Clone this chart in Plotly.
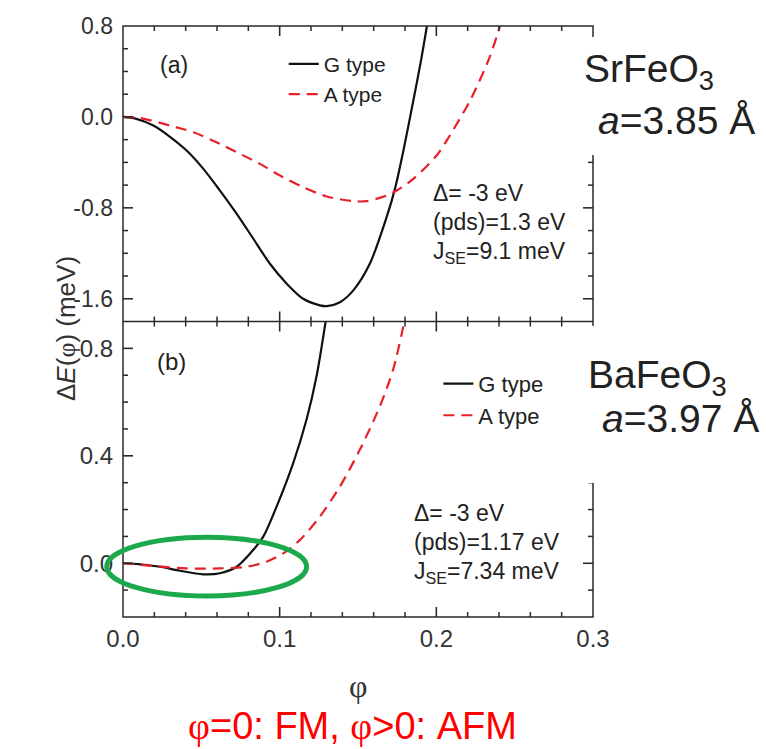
import plotly.graph_objects as go

# ---------------- data ----------------
# (a) SrFeO3
phi_a_G = [0.000, 0.008, 0.0194, 0.030, 0.0406, 0.0513, 0.0619, 0.0726, 0.0832, 0.0938,
           0.1045, 0.115, 0.1257, 0.130, 0.1385, 0.147, 0.1576, 0.1683, 0.1736, 0.179,
           0.1853, 0.190, 0.194]
dE_a_G = [0.000, -0.015, -0.076, -0.175, -0.296, -0.457, -0.648, -0.853, -1.072, -1.292,
          -1.467, -1.600, -1.658, -1.665, -1.630, -1.526, -1.290, -0.880, -0.633, -0.296,
          0.143, 0.480, 0.800]
phi_a_A = [0.000, 0.0108, 0.030, 0.045, 0.0619, 0.0726, 0.0874, 0.1002, 0.115, 0.130,
           0.147, 0.1555, 0.1683, 0.1747, 0.1853, 0.2002, 0.2066, 0.2215, 0.234, 0.2406]
dE_a_A = [0.000, -0.009, -0.076, -0.135, -0.237, -0.311, -0.413, -0.516, -0.618, -0.700,
          -0.741, -0.741, -0.692, -0.648, -0.545, -0.340, -0.208, 0.143, 0.524, 0.800]
# (b) BaFeO3
phi_b_G = [0.000, 0.0108, 0.0236, 0.0364, 0.0513, 0.0619, 0.0726, 0.0832, 0.0896, 0.0981,
           0.1087, 0.1172, 0.1236, 0.1296]
dE_b_G = [0.000, -0.004, -0.013, -0.028, -0.041, -0.037, -0.013, 0.050, 0.100, 0.212,
          0.374, 0.536, 0.698, 0.910]
phi_b_A = [0.000, 0.0194, 0.0406, 0.0619, 0.0789, 0.0917, 0.1023, 0.1130, 0.1257, 0.1385,
           0.1513, 0.1640, 0.1725, 0.1800]
dE_b_A = [0.000, -0.010, -0.019, -0.019, -0.013, 0.006, 0.037, 0.087, 0.174, 0.286,
          0.424, 0.585, 0.723, 0.910]

series_names = ["G type", "A type"]
x_range = [0.0, 0.3]
x_tickvals = [0.0, 0.1, 0.2, 0.3]
x_ticktext = ["0.0", "0.1", "0.2", "0.3"]
x_minor_step = 0.02
ya_range = [-1.8, 0.8]
ya_tickvals = [-1.6, -0.8, 0.0, 0.8]
ya_ticktext = ["-1.6", "-0.8", "0.0", "0.8"]
ya_minor_step = 0.2
yb_range = [-0.2, 0.9]
yb_tickvals = [0.0, 0.4, 0.8]
yb_ticktext = ["0.0", "0.4", "0.8"]
yb_minor_step = 0.1

# highlighted region in panel (b), in data units
ell_phi = [-0.0104, 0.1172]
ell_dE = [-0.122, 0.097]

# ---------------- styling ----------------
SANS = "Liberation Sans"
SERIF = "Liberation Serif"
RED = "#e8202a"
BLACK = "#111111"
AX = "#2a2a2a"
PHI = '<span style="font-family:Liberation Serif">φ</span>'

W_PX = 470.0          # plot width in pixels
PANEL_PX = 295.5      # height of one panel in pixels
MAJ, MIN = 10.0, 5.0  # inward tick lengths in pixels


def minor_positions(rng, step, majors):
    out = []
    n = int(round((rng[1] - rng[0]) / step))
    for i in range(1, n):
        v = round(rng[0] + i * step, 4)
        if all(abs(v - m) > 1e-6 for m in majors):
            out.append(v)
    return out


fig = go.Figure()
fig.add_trace(go.Scatter(x=phi_a_G, y=dE_a_G, xaxis="x2", yaxis="y", mode="lines",
                         name=series_names[0], legend="legend",
                         line=dict(color=BLACK, width=2.2, shape="spline", smoothing=0.8)))
fig.add_trace(go.Scatter(x=phi_a_A, y=dE_a_A, xaxis="x2", yaxis="y", mode="lines",
                         name=series_names[1], legend="legend",
                         line=dict(color=RED, width=2.2, dash="11px,7px", shape="spline", smoothing=0.8)))
fig.add_trace(go.Scatter(x=phi_b_G, y=dE_b_G, xaxis="x", yaxis="y2", mode="lines",
                         name=series_names[0], legend="legend2",
                         line=dict(color=BLACK, width=2.2, shape="spline", smoothing=0.8)))
fig.add_trace(go.Scatter(x=phi_b_A, y=dE_b_A, xaxis="x", yaxis="y2", mode="lines",
                         name=series_names[1], legend="legend2",
                         line=dict(color=RED, width=2.2, dash="11px,7px", shape="spline", smoothing=0.8)))

axbase = dict(showline=False, ticks="", showgrid=False, zeroline=False, tickmode="array")

fig.update_layout(
    width=766, height=749, autosize=False,
    margin=dict(l=123, r=173, t=26, b=132),
    paper_bgcolor="white", plot_bgcolor="rgba(0,0,0,0)",
    font=dict(family=SANS, color="#222"),
    xaxis=dict(domain=[0, 1], anchor="y2", range=x_range, tickvals=x_tickvals, ticktext=x_ticktext,
               tickfont=dict(family=SANS, size=24, color="#333"), ticklabelstandoff=5, **axbase),
    xaxis2=dict(domain=[0, 1], anchor="y", range=x_range, tickvals=x_tickvals,
                showticklabels=False, **axbase),
    yaxis=dict(domain=[0.5, 1], anchor="x2", range=ya_range, tickvals=ya_tickvals, ticktext=ya_ticktext,
               tickfont=dict(family=SANS, size=23, color="#333"), ticklabelstandoff=9, **axbase),
    yaxis2=dict(domain=[0, 0.5], anchor="x", range=yb_range, tickvals=yb_tickvals, ticktext=yb_ticktext,
                tickfont=dict(family=SANS, size=24, color="#333"), ticklabelstandoff=9, **axbase),
    legend=dict(x=0.342, y=0.97, xanchor="left", yanchor="top", bgcolor="rgba(0,0,0,0)",
                font=dict(family=SANS, size=21, color="#222"), tracegroupgap=0),
    legend2=dict(x=0.671, y=0.43, xanchor="left", yanchor="top", bgcolor="rgba(0,0,0,0)",
                 font=dict(family=SANS, size=22, color="#222"), tracegroupgap=0),
    showlegend=True,
)

H = 591.0
def py(p):  # pixel row -> paper y
    return (617 - p) / H
def px(p):  # pixel col -> paper x
    return (p - 123) / W_PX

shapes = [
    # frame of both panels and the shared border
    dict(type="rect", xref="paper", yref="paper", x0=0, x1=1, y0=0, y1=1,
         line=dict(color=AX, width=1.5), layer="above"),
    dict(type="line", xref="paper", yref="paper", x0=0, x1=1, y0=0.5, y1=0.5,
         line=dict(color=AX, width=1.5), layer="above"),
]

# inward ticks on all four sides of each panel, placed from the tick arrays and axis ranges
x_minor = minor_positions(x_range, x_minor_step, x_tickvals)
fx = lambda v: (v - x_range[0]) / (x_range[1] - x_range[0])
for xd, yd, yr, ymaj, ystep in (("x2 domain", "y domain", ya_range, ya_tickvals, ya_minor_step),
                                ("x domain", "y2 domain", yb_range, yb_tickvals, yb_minor_step)):
    fyp = lambda v, yr=yr: (v - yr[0]) / (yr[1] - yr[0])
    y_minor = minor_positions(yr, ystep, ymaj)
    for vals, ln, wd in ((x_tickvals, MAJ, 1.6), (x_minor, MIN, 1.5)):
        L = ln / PANEL_PX
        for v in vals:
            f = fx(v)
            if f <= 0 or f >= 1:
                continue
            shapes.append(dict(type="line", xref=xd, yref=yd, x0=f, x1=f, y0=0, y1=L,
                               line=dict(color=AX, width=wd), layer="above"))
            shapes.append(dict(type="line", xref=xd, yref=yd, x0=f, x1=f, y0=1, y1=1 - L,
                               line=dict(color=AX, width=wd), layer="above"))
    for vals, ln, wd in ((ymaj, MAJ, 1.6), (y_minor, MIN, 1.5)):
        L = ln / W_PX
        for v in vals:
            f = fyp(v)
            if f <= 0 or f >= 1:
                continue
            shapes.append(dict(type="line", xref=xd, yref=yd, x0=0, x1=L, y0=f, y1=f,
                               line=dict(color=AX, width=wd), layer="above"))
            shapes.append(dict(type="line", xref=xd, yref=yd, x0=1, x1=1 - L, y0=f, y1=f,
                               line=dict(color=AX, width=wd), layer="above"))

# masks hiding the right frame behind the compound labels (as in the reference)
shapes += [
    dict(type="rect", xref="paper", yref="paper", x0=px(583), x1=1.3, y0=py(155), y1=py(37),
         fillcolor="white", line=dict(width=0), layer="above"),
    dict(type="rect", xref="paper", yref="paper", x0=px(583), x1=1.3, y0=py(483), y1=py(326),
         fillcolor="white", line=dict(width=0), layer="above"),
]
fy = lambda v: (v - yb_range[0]) / (yb_range[1] - yb_range[0])
shapes.append(dict(type="circle", xref="x domain", yref="y2 domain",
                   x0=fx(ell_phi[0]), x1=fx(ell_phi[1]), y0=fy(ell_dE[0]), y1=fy(ell_dE[1]),
                   line=dict(color="#1ca84c", width=5), layer="above"))
fig.update_layout(shapes=shapes)

ann = []
def txt(x, y, s, size, xanchor="left", color="#222", family=SANS, **kw):
    ann.append(dict(x=x, y=y, xref="paper", yref="paper", text=s, showarrow=False,
                    xanchor=xanchor, yanchor="middle", font=dict(family=family, size=size, color=color), **kw))

txt(px(174), py(65), "(a)", 23, xanchor="center")
txt(px(171), py(362), "(b)", 24, xanchor="center")

txt(px(431), py(193), "Δ= -3 eV", 23)
txt(px(431), py(222), "(pds)=1.3 eV", 23)
txt(px(431), py(252), "J<sub>SE</sub>=9.1 meV", 23)

txt(px(412), py(513), "Δ= -3 eV", 23)
txt(px(412), py(542), "(pds)=1.17 eV", 23)
txt(px(412), py(572), "J<sub>SE</sub>=7.34 meV", 23)

txt(px(582), py(72), "SrFeO<sub>3</sub>", 39)
txt(px(596), py(120), "<i>a</i>=3.85 Å", 39)
txt(px(586), py(377), "BaFeO<sub>3</sub>", 39)
txt(px(600), py(418), "<i>a</i>=3.97 Å", 39)

# axis titles
ann.append(dict(x=px(66), y=py(329), xref="paper", yref="paper", showarrow=False,
                text="Δ<i>E</i>(" + PHI + ") (meV)", textangle=-90, xanchor="center", yanchor="middle",
                font=dict(family=SANS, size=26, color="#333")))
txt(px(358), py(686), "φ", 32, xanchor="center", color="#333", family=SERIF)
txt(px(352), py(726), PHI + "=0: FM, " + PHI + "&gt;0: AFM", 38, xanchor="center", color="#ff0000")

fig.update_layout(annotations=ann)
fig.write_html("out.html")
